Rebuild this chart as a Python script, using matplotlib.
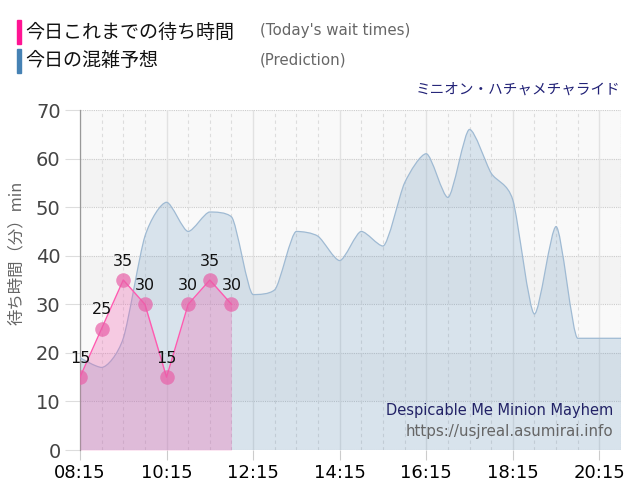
import matplotlib
matplotlib.use("Agg")
import matplotlib.pyplot as plt
import numpy as np
from matplotlib.path import Path
from matplotlib.patches import PathPatch, Rectangle

plt.rcParams['font.family'] = ['DejaVu Sans', 'Noto Sans CJK JP']

# ---- data ----
pred_times = ["08:15", "08:45", "09:15", "09:45", "10:15", "10:45", "11:15", "11:45",
              "12:15", "12:45", "13:15", "13:45", "14:15", "14:45", "15:15", "15:45",
              "16:15", "16:45", "17:15", "17:45", "18:15", "18:45", "19:15", "19:45",
              "20:15", "20:45"]
pred_wait = [19, 17, 23, 44, 51, 45, 49, 48, 32, 33, 45, 44, 39, 45, 42, 55,
             61, 52, 66, 57, 51.5, 28, 46, 23, 23, 23]

today_times = ["08:15", "08:45", "09:15", "09:45", "10:15", "10:45", "11:15", "11:45"]
today_wait = [15, 25, 35, 30, 15, 30, 35, 30]

tick_labels = ["08:15", "10:15", "12:15", "14:15", "16:15", "18:15", "20:15"]


def to_h(t):
    h, m = t.split(":")
    return int(h) + int(m) / 60.0


def spline_path(xs, ys, sm=3.0):
    # areaspline control points (highcharts style, less smoothing)
    den = sm + 1
    n = len(xs)
    lc, rc = [None] * n, [None] * n
    for i in range(n):
        x, y = xs[i], ys[i]
        if i == 0 or i == n - 1:
            lc[i] = (x, y); rc[i] = (x, y)
            continue
        lx, ly, nx, ny = xs[i - 1], ys[i - 1], xs[i + 1], ys[i + 1]
        lcx = (sm * x + lx) / den; lcy = (sm * y + ly) / den
        rcx = (sm * x + nx) / den; rcy = (sm * y + ny) / den
        corr = ((rcy - lcy) * (rcx - x)) / (rcx - lcx) + y - rcy
        lcy += corr; rcy += corr
        if lcy > ly and lcy > y:
            lcy = max(ly, y); rcy = 2 * y - lcy
        elif lcy < ly and lcy < y:
            lcy = min(ly, y); rcy = 2 * y - lcy
        if rcy > ny and rcy > y:
            rcy = max(ny, y); lcy = 2 * y - rcy
        elif rcy < ny and rcy < y:
            rcy = min(ny, y); lcy = 2 * y - rcy
        lc[i] = (lcx, lcy); rc[i] = (rcx, rcy)
    verts = [(xs[0], ys[0])]
    codes = [Path.MOVETO]
    for i in range(1, n):
        verts += [rc[i - 1], lc[i], (xs[i], ys[i])]
        codes += [Path.CURVE4] * 3
    return verts, codes


px = [to_h(t) for t in pred_times]
tx = [to_h(t) for t in today_times]

fig = plt.figure(figsize=(6.4, 5), dpi=100)
ax = fig.add_axes([80 / 640, 0.1, 541 / 640, 0.68])

x0, x1 = to_h("08:15"), to_h("20:45")
ax.set_xlim(x0, x1)
ax.set_ylim(0, 70)

# plot bands
for lo in range(0, 70, 10):
    ax.axhspan(lo, lo + 10, color='#f3f3f3' if (lo // 10) % 2 == 1 else '#f9f9f9', lw=0, zorder=0)

# grid
for y in range(0, 71, 10):
    ax.axhline(y, color='#cccccc', lw=0.8, ls=(0, (1, 1)), zorder=1)
for t in pred_times:
    xv = to_h(t)
    if t in tick_labels:
        ax.axvline(xv, color='#e2e2e2', lw=1, zorder=1)
    else:
        ax.axvline(xv, color='#dddddd', lw=0.8, ls=(0, (3, 3)), zorder=1)
ax.axvline(x1, color='#cccccc', lw=0.8, ls=(0, (1, 1)), zorder=1)

# prediction areaspline
v, c = spline_path(px, pred_wait)
area_v = [(px[0], 0)] + v + [(px[-1], 0), (px[0], 0)]
area_c = [Path.MOVETO, Path.LINETO] + c[1:] + [Path.LINETO, Path.CLOSEPOLY]
ax.add_patch(PathPatch(Path(area_v, area_c), facecolor='#4682b4', alpha=0.18, lw=0, zorder=2))
ax.add_patch(PathPatch(Path(v, c), facecolor='none', edgecolor='#9fbad3', lw=0.9, zorder=3))

# today's wait times
ax.fill_between(tx, today_wait, 0, color='#f060b0', alpha=0.3, lw=0, zorder=4)
ax.plot(tx, today_wait, color='#ff5ab0', lw=1, zorder=5)
ax.scatter(tx, today_wait, s=110, color='#e860a8', alpha=0.7, lw=0, zorder=6)
for xv, yv in zip(tx, today_wait):
    ax.annotate(str(yv), (xv, yv), xytext=(0, 8), textcoords='offset points',
                ha='center', va='bottom', fontsize=11.5, color='#111111', zorder=7)

# axes styling
for s in ['top', 'right', 'bottom']:
    ax.spines[s].set_visible(False)
ax.spines['left'].set_color('#999999')
ax.spines['left'].set_linewidth(0.9)
ax.set_yticks(range(0, 71, 10))
ax.set_xticks([to_h(t) for t in tick_labels])
ax.set_xticklabels(tick_labels)
ax.tick_params(axis='y', length=11, color='#dddddd', labelsize=14, labelcolor='#444444', pad=3)
ax.tick_params(axis='x', length=7, color='#cccccc', labelsize=13, labelcolor='#000000', pad=3)
ax.set_ylabel('待ち時間（分）min', fontsize=11.8, color='#666666',
              family=['Noto Sans CJK JP', 'DejaVu Sans'])
ax.yaxis.set_label_coords(-0.102, 0.58)

ax.text(0.985, 0.115, 'Despicable Me Minion Mayhem', transform=ax.transAxes, ha='right',
        va='center', fontsize=10.5, color='#222266', zorder=8)
ax.text(0.985, 0.055, 'https://usjreal.asumirai.info', transform=ax.transAxes, ha='right',
        va='center', fontsize=10.9, color='#666666', zorder=8)

# legend header
jp = ['Noto Sans CJK JP', 'DejaVu Sans']
fig.patches.append(Rectangle((17 / 640, 1 - 44 / 500), 4 / 640, 24 / 500, transform=fig.transFigure,
                             color='#ff1493', figure=fig))
fig.patches.append(Rectangle((17 / 640, 1 - 73 / 500), 4 / 640, 24 / 500, transform=fig.transFigure,
                             color='#4682b4', figure=fig))
fig.text(25 / 640, 1 - 32 / 500, '今日これまでの待ち時間', fontsize=13.7, va='center', family=jp, color='#111111')
fig.text(25 / 640, 1 - 61 / 500, '今日の混雑予想', fontsize=13.7, va='center', family=jp, color='#111111')
fig.text(260 / 640, 1 - 31 / 500, "(Today's wait times)", fontsize=10.8, va='center', color='#666666')
fig.text(260 / 640, 1 - 60 / 500, '(Prediction)', fontsize=10.8, va='center', color='#666666')
fig.text(620 / 640, 1 - 90 / 500, 'ミニオン・ハチャメチャライド', fontsize=10.5, ha='right', va='center',
         family=jp, color='#222277')

fig.savefig('out.png', dpi=100)
